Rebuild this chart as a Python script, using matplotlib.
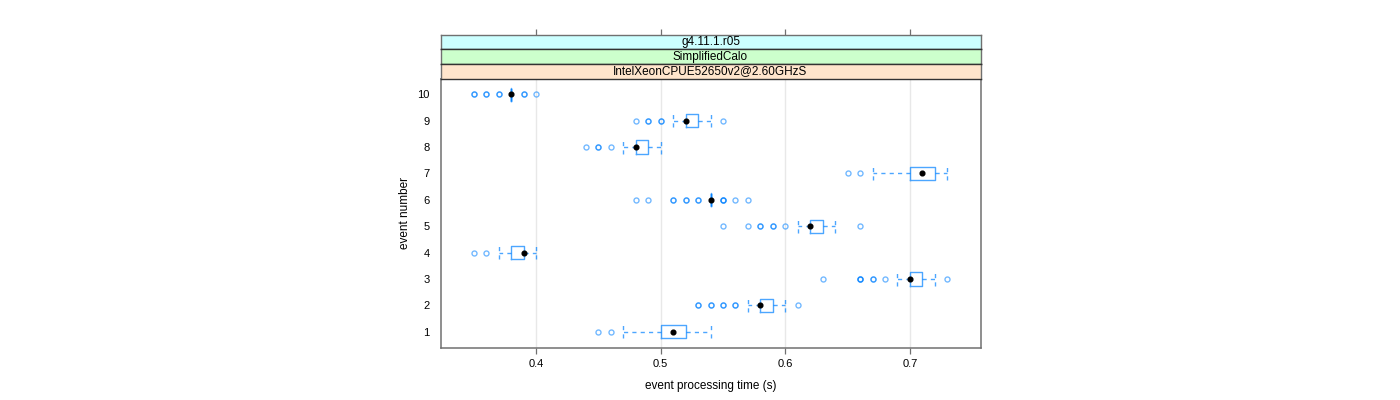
import matplotlib
matplotlib.use("Agg")
import matplotlib.pyplot as plt
import numpy as np

plt.rcParams['font.family'] = ['Liberation Sans', 'DejaVu Sans']

events = [1, 2, 3, 4, 5, 6, 7, 8, 9, 10]
q1 =     [0.50, 0.58, 0.70, 0.38, 0.62, 0.54, 0.70, 0.48, 0.52, 0.38]
median = [0.51, 0.58, 0.70, 0.39, 0.62, 0.54, 0.71, 0.48, 0.52, 0.38]
q3 =     [0.52, 0.59, 0.71, 0.39, 0.63, 0.54, 0.72, 0.49, 0.53, 0.38]
whislo = [0.47, 0.57, 0.69, 0.37, 0.61, 0.54, 0.67, 0.47, 0.51, 0.38]
whishi = [0.54, 0.60, 0.72, 0.40, 0.64, 0.54, 0.73, 0.50, 0.54, 0.38]
# outliers: value -> number of overlapping observations
outliers = [
    {0.45: 1, 0.46: 1},
    {0.53: 2, 0.54: 2, 0.55: 2, 0.56: 2, 0.61: 1},
    {0.63: 1, 0.66: 3, 0.67: 2, 0.68: 1, 0.73: 1},
    {0.35: 1, 0.36: 1},
    {0.55: 1, 0.57: 1, 0.58: 2, 0.59: 2, 0.60: 1, 0.66: 1},
    {0.48: 1, 0.49: 1, 0.51: 2, 0.52: 2, 0.53: 2, 0.55: 3, 0.56: 1, 0.57: 1},
    {0.65: 1, 0.66: 1},
    {0.44: 1, 0.45: 2, 0.46: 1},
    {0.48: 1, 0.49: 2, 0.50: 2, 0.55: 1},
    {0.35: 2, 0.36: 2, 0.37: 2, 0.39: 2, 0.40: 1},
]
strip_labels = ["g4.11.1.r05", "SimplifiedCalo", "IntelXeonCPUE52650v2@2.60GHzS"]
strip_colors = ["#ccffff", "#ccffcc", "#ffe5cc"]
xticks = [0.4, 0.5, 0.6, 0.7]

BLUE = "#0080ff"
FRAME = "#707070"

fig = plt.figure(figsize=(14, 4), dpi=100)
W, H = 1400.0, 400.0
left, right = 440.5 / W, 980.5 / W
ptop, pbot = 78.5, 347.5
ax = fig.add_axes([left, 1 - pbot / H, right - left, (pbot - ptop) / H])

xmin, xmax = 0.35, 0.73
pad = 0.07 * (xmax - xmin)
ax.set_xlim(xmin - pad, xmax + pad)
ax.set_ylim(0.4, 10.6)

for xt in xticks:
    ax.axvline(xt, color="#e8e8e8", lw=1, zorder=0)

stats = []
for i in range(len(events)):
    fl = []
    for v, c in outliers[i].items():
        fl += [v] * c
    stats.append(dict(med=median[i], q1=q1[i], q3=q3[i], whislo=whislo[i],
                      whishi=whishi[i], fliers=fl))

ax.bxp(stats, positions=events, orientation='horizontal', widths=0.5,
       capwidths=0.5, showfliers=True, patch_artist=False,
       boxprops=dict(color=BLUE, lw=1.0, alpha=0.7),
       whiskerprops=dict(color=BLUE, lw=1.0, linestyle=(0, (3, 3)), alpha=0.7),
       capprops=dict(color=BLUE, lw=1.0, linestyle=(0, (3, 3)), alpha=0.7),
       medianprops=dict(visible=False),
       flierprops=dict(marker='o', markerfacecolor='none', markeredgecolor=BLUE,
                       markersize=3.6, markeredgewidth=1.0, alpha=0.55, linestyle='none'),
       manage_ticks=False)
ax.plot(median, events, 'o', color='black', markersize=3.4, zorder=5)

ax.set_yticks(events)
ax.set_yticklabels([str(e) for e in events])
ax.set_xticks(xticks)
ax.set_xticklabels([f"{t:g}" for t in xticks])
ax.tick_params(axis='y', length=0, pad=8, labelsize=8)
ax.tick_params(axis='x', length=4, width=0.9, color=FRAME, pad=4, labelsize=8)
for s in ax.spines.values():
    s.set_color(FRAME)
    s.set_linewidth(1.1)
ax.set_xlabel("event processing time (s)", fontsize=8.5, labelpad=8)
ax.set_ylabel("event number", fontsize=8.5, labelpad=4)

# strips
bounds = [34.5, 49.3, 63.8, 78.5]
for k in range(3):
    top, bot = bounds[k], bounds[k + 1]
    sax = fig.add_axes([left, 1 - bot / H, right - left, (bot - top) / H], sharex=ax)
    sax.set_facecolor(strip_colors[k])
    sax.set_ylim(0, 1)
    sax.text(0.5, 0.5, strip_labels[k], transform=sax.transAxes, ha='center',
             va='center', fontsize=8.5)
    sax.tick_params(axis='y', left=False, labelleft=False)
    if k == 0:
        sax.tick_params(axis='x', bottom=False, labelbottom=False, top=True,
                        labeltop=False, length=4, width=0.9, color=FRAME)
    else:
        sax.tick_params(axis='x', bottom=False, labelbottom=False)
    for s in sax.spines.values():
        s.set_color("#333333")
        s.set_linewidth(1.0)
    sax.spines['left'].set_color(FRAME)
    sax.spines['right'].set_color(FRAME)
    if k == 0:
        sax.spines['top'].set_color(FRAME)

fig.savefig("out.png", dpi=100)
